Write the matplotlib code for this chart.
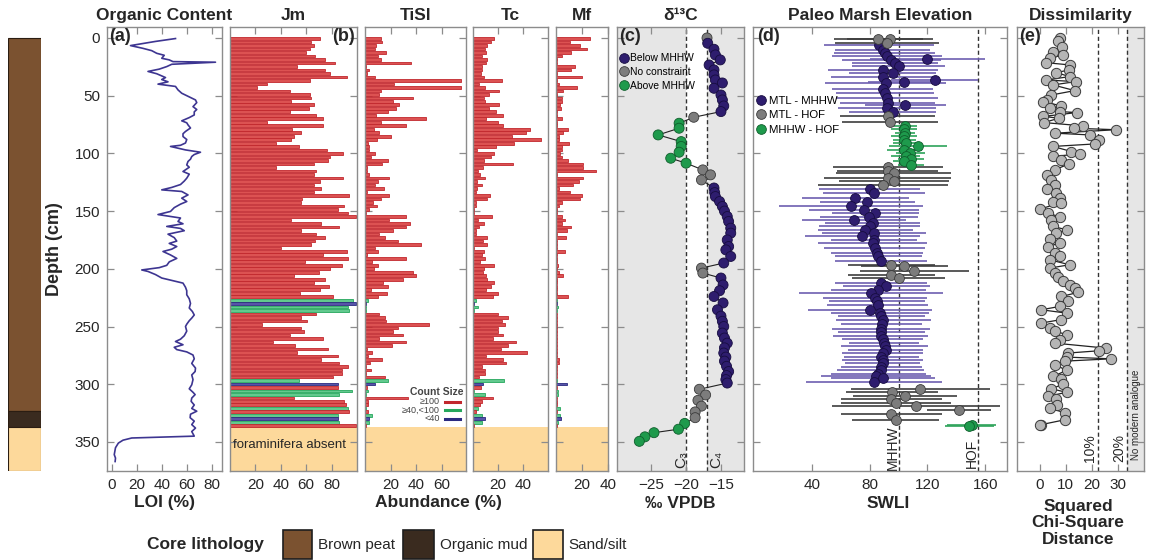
import numpy as np
import matplotlib
matplotlib.use("Agg")
import matplotlib.pyplot as plt
from matplotlib.lines import Line2D
from matplotlib.patches import Rectangle

WIDE = ['Liberation Sans', 'DejaVu Sans']
plt.rcParams['font.family'] = WIDE

# ---------------- data ----------------
litho_top = [0, 323, 337]
litho_bottom = [323, 337, 375]
litho_names = ['Brown peat', 'Organic mud', 'Sand/silt']
litho_colors = ['#7b5230', '#3a2b1f', '#fdd99b']

loi_depth = [0.5, 3, 6.6, 9, 11, 13.3, 15, 17.6, 19, 20.5, 21, 22.8, 24.8, 27, 29, 31,
             34.3, 36, 38, 40, 42, 45, 47.9, 50, 53.7, 56, 59.5, 62, 64, 66.7, 69, 71.8,
             73.5, 75.3, 78, 81, 83, 85.4, 88, 91, 93, 94, 95.5, 97, 99, 101, 102.7, 105,
             107, 110, 112, 115.7, 118, 121.5, 124, 127, 129.5, 131.6, 133, 136, 138.8,
             141.7, 144, 147, 150.3, 153, 156, 159, 161, 163.3, 165, 167, 170, 173, 176,
             178, 180.7, 183, 185, 188, 191, 194, 197, 199, 201, 202.3, 205, 208, 212.4,
             216, 219, 222.5, 226, 230, 234, 237, 240, 242.7, 245, 248, 250, 254, 258, 261,
             263, 265.8, 268, 270, 272, 274.7, 278, 282, 286, 289, 292, 296, 300.5, 304,
             307, 309, 312, 314.8, 318, 321, 323.4, 326, 329, 332, 335, 338, 341, 343.7,
             345, 346.6, 348.5, 351, 355, 358, 361, 364, 367]
loi = [51, 35, 15, 25, 32, 36, 42, 40, 46, 49, 83, 48, 44, 38, 29, 36,
       43, 40, 45, 37, 51, 53, 56, 60, 67, 68, 65, 68, 66, 66, 62, 56,
       60, 61, 63, 59, 57, 57, 60, 59, 55, 47, 53, 59, 71, 66, 64, 63,
       61, 60, 62, 57, 62, 60, 58, 55, 48, 40, 56, 61, 56,
       60, 55, 50, 47, 37, 55, 53, 57, 44, 55, 58, 45, 50, 52,
       46, 52, 48, 41, 47, 52, 46, 44, 38, 24, 29, 35, 40, 57,
       59, 60, 60, 62, 63, 62, 64.5, 66, 64, 62, 60, 59, 60, 58, 55,
       51, 57, 50, 52, 60, 65, 66, 64, 67, 66.7, 64, 65, 64, 62,
       65, 66.7, 64, 63.5, 66, 64, 68, 63, 62.7, 66, 64, 67, 64, 65.3,
       66, 16, 9, 5.3, 3, 2.5, 2, 3, 2.7]

# foraminifera relative abundance (%), samples top to bottom
jm = [71, 64, 66, 63, 60, 67, 75, 83, 53, 75, 79, 92, 63, 29, 21, 47, 63, 64, 48, 66,
      62, 47, 68, 73, 29, 73, 49, 56, 50, 48, 36, 54, 76, 89, 79, 77, 66, 36, 68, 66,
      89, 71, 66, 72, 66, 94, 57, 56, 90, 85, 93, 99, 48, 72, 86, 56, 68, 75, 67, 64,
      40, 92, 73, 93, 59, 88, 79, 70, 50, 75, 66,
      78, 71, 55, 81, 97, 99, 93, 94, 68, 56, 61, 25, 56, 58, 47, 73, 34, 51, 77, 53,
      85, 72, 86, 93, 88, 88, 81, 54, 85, 85, 96, 86, 50, 90, 91, 93, 94, 85, 85, 86, 99]
tisl = [12.7, 13.5, 8.8, 7.5, 16.6, 10, 12.7, 36, 1, 3.5, 1.4, 7.5, 75, 23, 75, 12.7,
        11, 37.5, 22, 26.5, 24.4, 18, 8.8, 48, 12.7, 32, 6.7, 11, 20.5, 9.3, 2.2, 3, 3.5,
        8.2, 4.8, 18, 13.5, 1.4, 1.4, 3.5, 19, 10, 7.5, 14.5, 1.4, 18.7, 12.7, 6, 9.3, 3,
        1, 32, 18.7, 35.4, 32, 22, 11.3, 16, 25.7, 44, 7.5, 10, 1.4, 32, 5.6, 10, 6.7,
        37.5, 40, 30, 14,
        18, 4.8, 17, 10, 2.2, 1, 1, 1, 11.3, 16, 16.6, 50, 25.7, 22, 30, 11.3, 32, 21,
        1.4, 5.6, 2.2, 13.5, 4, 1, 4.8, 1, 15.3, 18, 8.2, 1.5, 2, 1, 33.6, 2.5, 2.5, 1,
        2.5, 5.6, 3.5, 3.5, 0.5]
tc = [16.8, 14, 11.5, 9.6, 10, 7.5, 11.5, 10.7, 7, 7, 6, 8.8, 23, 4.8, 9.6, 21, 12.8,
      8.8, 9.6, 20.8, 12.3, 18, 24, 10, 19.5, 24, 45, 42, 31, 54, 32.8, 18, 3.5, 16.8,
      14, 8.8, 31.5, 8, 4.3, 5.3, 9.6, 3.5, 7, 3.5, 2, 13.3, 11.5, 2.7, 2, 0.5, 0.5, 15,
      4.3, 8.8, 4.8, 2.7, 2.7, 11.5, 8, 11.5, 1, 8.8, 7, 9.6, 5.3, 16.8, 8.8, 8, 10,
      11.5, 16.8,
      14, 10, 20, 15.5, 2.7, 1, 4.3, 1, 20, 28, 23, 25.6, 20, 19.5, 24, 15.5, 34, 27.5,
      22, 42.7, 10, 23.5, 26, 7, 9.6, 9.6, 4.8, 24.8, 8, 6, 1, 9.6, 15.5, 7, 5.3, 4.3,
      2.7, 7.5, 9.6, 7.5, 1]
mf = [26, 10.8, 18.5, 23.6, 11.3, 4.4, 0.5, 0.5, 14.6, 11.3, 1, 19.7, 0.5, 2.6, 16, 5,
      0.5, 4.4, 4.4, 3, 3.5, 0.5, 0.5, 4.4, 0.5, 0.5, 9.5, 5.6, 2.6, 2.6, 10, 4.4, 4.4,
      3, 4.4, 9.5, 20.5, 20.5, 30.8, 1, 20.5, 18, 12.8, 2.6, 10.8, 19.7, 18.5, 4.4, 2.6,
      1, 0.5, 4.4, 7, 4.4, 11.3, 8.2, 0.5, 7.7, 0.5, 1, 0.5, 7, 0.5, 0.5, 0.5, 1.5, 0.5,
      2.6, 5, 0.5, 0.5,
      0.5, 0.5, 1, 9.5, 1, 1, 1.5, 1, 1, 0.5, 0.5, 0.5, 0.5, 0.5, 0.5, 0.5, 0.5, 0.5,
      0.5, 0.5, 0.5, 2.6, 2.6, 0.5, 0.5, 0.5, 0.5, 1, 8.2, 0.5, 1.5, 1.5, 0.5, 1, 0.5,
      3, 0.5, 3, 3.5, 1.5, 0.5]
# count size per sample: r >=100, g 40-100, b <40
count_class = 'r' * 71 + 'rrrr' + 'gbgg' + 'r' * 19 + 'gbrgg' + 'rrr' + 'grgbgr'

d13c_depth = [0, 4.6, 9.8, 14.7, 19, 23.4, 27.7, 32, 36.4, 39, 43.6, 49.4, 53.7, 58.9,
              63.8, 68.7, 73.9, 78.2, 84, 89.8, 94, 99, 104.2, 108.5, 114.3, 118.6, 123,
              130, 134, 137.4, 141.7, 146, 150, 154.7, 159, 164.8, 169.1, 175, 180.7,
              183.6, 189.3, 195, 199.4, 203.7, 208, 214, 219, 224, 229.6, 235.5, 241,
              245.5, 250, 255.7, 260, 264.4, 268.5, 273, 276.5, 280, 284.5, 289, 292.5,
              296, 299, 304.4, 309.3, 314, 319, 324, 329, 334, 339, 342, 345.6, 349.5]
d13c = [-17.0, -16.9, -16.0, -15.8, -15.1, -16.7, -16.0, -16.0, -15.8, -14.8, -16.0,
        -15.0, -14.8, -14.6, -15.0, -18.9, -21.0, -21.0, -24.0, -20.7, -20.7, -21.0,
        -22.2, -20.0, -17.6, -16.5, -17.8, -16.0, -15.9, -15.8, -15.2, -14.8, -14.5,
        -14.1, -13.9, -13.6, -13.6, -14.1, -13.9, -14.3, -13.6, -14.6, -17.8, -17.6,
        -15.0, -14.7, -15.2, -16.0, -14.7, -15.5, -15.0, -14.8, -14.6, -14.8, -14.5,
        -14.1, -14.5, -14.6, -14.3, -14.5, -14.2, -13.9, -14.2, -14.3, -14.1, -18.1,
        -17.2, -18.3, -17.8, -18.7, -18.7, -20.2, -21.1, -24.6, -25.9, -26.7]
d13c_zone = ('kbbbbbbbbbbbbbb' + 'k' + 'gggggggg' + 'kkk' + 'b' * 15 + 'kk'
             + 'b' * 21 + 'kkkkkk' + 'ggggg')

swli_depth = [1, 0.5, 4, 6, 10, 13, 16, 18.5, 19, 22, 24, 28, 30, 34, 36.5, 38, 39, 44,
              48, 52, 56, 58, 61, 64, 67.5, 73,
              76, 79, 82, 85, 88, 91, 94, 97, 100, 102, 104.5, 107, 110,
              112, 115, 117, 121, 124, 127,
              131, 134.5, 139, 142, 145.5, 149, 152, 155, 158, 160, 163, 166, 169, 172,
              175, 178, 182, 186, 189, 193.5,
              196.5, 198, 202, 205, 208,
              212, 215, 218, 221, 225, 228, 231, 235.5, 238, 241, 244, 248, 252, 255, 258,
              261, 264, 267, 270, 273, 276, 279, 282, 285, 288, 291, 293, 295, 298,
              304, 307, 310.5, 313, 316, 319, 322, 325.5, 331,
              335, 336.5]
swli = [86, 94, 92, 86.5, 89, 90.5, 92, 120, 95, 97.5, 100, 89, 96, 89, 125, 104, 91, 89,
        90.5, 92, 92.5, 104.5, 92, 96, 92.5, 94,
        104.5, 103.5, 104.5, 103.5, 104, 105, 113.5, 104, 108, 105, 108.5, 104, 108.5,
        92.5, 92.5, 96.5, 92.5, 97, 89,
        80, 83, 70, 78.5, 67, 76, 84, 79.5, 69, 82, 80, 77, 83, 75, 83, 82, 83.5, 85, 86,
        88,
        95, 104, 111, 95, 100,
        88, 91.5, 86, 81, 84, 85, 85.5, 80, 87, 88, 89.5, 88.5, 88, 88, 87.5, 89, 90,
        90.5, 91, 89, 88, 89, 89, 88, 87.5, 86, 84.5, 89, 83,
        115, 95.5, 104.5, 95, 98, 112, 142, 95, 98,
        150.5, 149]
swli_err = [31, 30, 36, 38, 33, 35, 38, 40, 34, 30, 32, 38, 30, 36, 30, 25, 42, 35, 34,
            35, 33, 28, 34, 30, 33, 33,
            8, 9, 7, 9, 8, 9, 20, 12, 10, 10, 9, 8, 9,
            38, 35, 40, 44, 38, 45,
            35, 35, 37, 33, 50, 38, 30, 34, 36, 33, 35, 33, 36, 40, 30, 38, 35, 32, 30, 32,
            30, 30, 38, 30, 32,
            32, 30, 33, 50, 36, 33, 35, 43, 34, 30, 33, 28, 34, 30, 33, 28, 24, 30, 26, 28,
            26, 28, 26, 28, 30, 33, 38, 36, 47,
            48, 32, 36, 35, 38, 58, 22, 35, 30,
            17, 17]
swli_zone = ('kkk' + 'b' * 21 + 'kk' + 'g' * 13 + 'k' * 6 + 'b' * 20 + 'k' * 5
             + 'b' * 29 + 'k' * 9 + 'gg')

dis_depth = [0, 3, 7.5, 11.8, 14.7, 17.6, 21.4, 23.4, 27.7, 30, 33.5, 36.4, 37.8, 40.7,
             45.6, 49.4, 53.7, 55.1, 58.9, 61, 63.8, 64.6, 68, 69.5, 73.3, 76.2, 78.2,
             79.5, 82.5, 84, 88.3, 91.8, 94, 98.4, 100.4, 102.7, 105.6, 109, 114.3, 118.6,
             123, 127.3, 131, 134.5, 138.8, 141.7, 142.6, 148.3, 151.8, 155, 157.6, 163.3,
             166.2, 169.1, 174.3, 177.8, 180.7, 186.4, 189.3, 192.2, 196.5, 199.4, 203.7,
             207.2, 211, 214, 216.7, 220.5, 224, 228, 232.6, 235.5, 238.4, 244, 247, 251,
             254, 257, 261.5, 264.4, 268.7, 271, 273, 276.5, 278, 280, 283, 288, 293.3,
             295.5, 300, 304, 307, 310.5, 313, 317.8, 320.6, 325, 330.7, 335, 335.7]
dis = [7.7, 7.0, 8.7, 5.1, 9.0, 3.8, 2.3, 11.8, 11.3, 6.4, 11.5, 2.3, 13.9, 5.1, 13.5, 4.5,
       2.6, 1.3, 8.3, 3.8, 7.7, 14.4, 1.3, 7.4, 1.6, 16.7, 13.0, 29.5, 5.8, 19.2, 23.0,
       21.3, 5.1, 12.2, 15.4, 5.1, 8.3, 11.3, 5.8, 2.6, 4.5, 5.8, 2.6, 6.4, 7.7, 5.1, 8.3,
       0.0, 3.2, 7.7, 4.5, 5.1, 10.3, 6.4, 3.8, 7.7, 3.2, 5.8, 7.7, 3.8, 11.5, 3.8, 5.8,
       7.0, 9.0, 11.5, 13.5, 14.7, 8.3, 11.0, 7.7, 0.6, 10.3, 8.3, 0.6, 3.8, 5.8, 10.3,
       7.7, 5.8, 25.4, 23.0, 10.9, 10.3, 27.6, 9.6, 5.8, 10.3, 5.1, 8.3, 9.0, 4.5, 10.3,
       3.2, 6.4, 6.7, 3.8, 9.9, 9.9, 0.6, 0.0]

# ---------------- styling ----------------
SAND = litho_colors[2]
BAR_FACE = {'r': '#dc5252', 'g': '#62c98e', 'b': '#5754a8'}
BAR_EDGE = {'r': '#c1272d', 'g': '#25a75c', 'b': '#2b2a80'}
ZONE_FACE = {'b': '#2e1d6e', 'k': '#7c7c7c', 'g': '#1e9a4c'}
ZONE_EDGE = {'b': '#170d40', 'k': '#3a3a3a', 'g': '#0f5e2c'}
ERR_COL = {'b': '#6d5fb0', 'k': '#3d3d3d', 'g': '#2ea35a'}
TXT = '#262626'

W, H = 1149, 560
TOP, BOT = 27, 471
fig = plt.figure(figsize=(W / 100, H / 100), dpi=100)


def add_panel(x0, x1):
    ax = fig.add_axes([x0 / W, 1 - BOT / H, (x1 - x0) / W, (BOT - TOP) / H])
    ax.set_ylim(375.2, -9.5)
    ax.set_yticks(range(0, 351, 50))
    ax.tick_params(direction='in', top=True, right=True, length=5, width=0.9,
                   color='#8c8c8c', labelsize=11, labelcolor=TXT, pad=5)
    ax.tick_params(axis='y', labelleft=False)
    for sp in ax.spines.values():
        sp.set_color('#8c8c8c')
        sp.set_linewidth(1.0)
    return ax


def title(ax, text):
    ax.set_title(text, fontsize=12.5, fontweight='bold', pad=5, color=TXT)


def plabel(ax, text, right=False):
    ax.text(0.98 if right else 0.015, 0.997, text, transform=ax.transAxes,
            ha='right' if right else 'left', va='top', fontsize=13,
            fontweight='bold', color=TXT, zorder=6)


def xlab(x, y, text):
    fig.text(x / W, 1 - y / H, text, ha='center', va='center', fontsize=12.5,
             fontweight='bold', color=TXT, linespacing=1.15)


depth_s = np.linspace(0.5, 336, len(jm))


def bars(ax, vals):
    face = [BAR_FACE[c] for c in count_class]
    edge = [BAR_EDGE[c] for c in count_class]
    ax.barh(depth_s, vals, height=2.3, color=face, edgecolor=edge, linewidth=0.6, zorder=2)
    ax.axhspan(337.2, 376, color=SAND, lw=0, zorder=1.5)


# lithology column
axl = fig.add_axes([8 / W, 1 - BOT / H, 33 / W, (BOT - TOP) / H])
axl.set_ylim(375.2, -9.5)
axl.set_xlim(-0.5, 0.5)
axl.bar([0] * 3, np.subtract(litho_bottom, litho_top), bottom=litho_top, width=1,
        color=litho_colors, edgecolor='#2b1d12', linewidth=0.8)
axl.axis('off')

# (a) LOI
ax = add_panel(107, 222)
ax.plot(loi, loi_depth, color='#3d3591', lw=1.2)
ax.set_xlim(-3.8, 88.2)
ax.set_xticks([0, 20, 40, 60, 80])
ax.tick_params(axis='y', labelleft=True)
ax.set_ylabel('Depth (cm)', fontsize=13, fontweight='bold', color=TXT, labelpad=8)
title(ax, 'Organic Content')
plabel(ax, '(a)')
xlab(164, 503, 'LOI (%)')

# Jm
ax = add_panel(230, 357)
bars(ax, jm)
ax.set_xlim(0, 100)
ax.set_xticks([20, 40, 60, 80])
title(ax, 'Jm')
plabel(ax, '(b)', right=True)
ax.text(2, 353, 'foraminifera absent', fontsize=9.5, va='center', ha='left',
        color=TXT, zorder=4)

# TiSl
ax = add_panel(365, 466)
bars(ax, tisl)
ax.set_xlim(0, 79)
ax.set_xticks([20, 40, 60])
title(ax, 'TiSl')
ax.text(56, 306.5, 'Count Size', fontsize=7.5, fontweight='bold', ha='center',
        va='center', color='#444444', zorder=5)
for lab, c, dy in [('≥100', 'r', 315), ('≥40,<100', 'g', 322.5), ('<40', 'b', 330)]:
    ax.text(58.4, dy, lab, fontsize=6.5, ha='right', va='center', color='#444444', zorder=5)
    ax.plot([62.4, 74.1], [dy, dy], color=BAR_EDGE[c], lw=2.2, zorder=5)

# Tc
ax = add_panel(473, 548)
bars(ax, tc)
ax.set_xlim(0, 59.5)
ax.set_xticks([20, 40])
title(ax, 'Tc')
xlab(438, 503, 'Abundance (%)')

# Mf
ax = add_panel(556, 608)
bars(ax, mf)
ax.set_xlim(0, 40)
ax.set_xticks([20, 40])
title(ax, 'Mf')

# (c) d13C
ax = add_panel(617, 744)
ax.set_facecolor('#e6e6e6')
ax.axvspan(-20, -17, color='white', lw=0, zorder=0)
for xv in (-20, -17):
    ax.axvline(xv, color='#333333', lw=1.0, ls=(0, (3, 2)), zorder=1)
ax.plot(d13c, d13c_depth, color='#222222', lw=0.8, zorder=2)
ax.scatter(d13c, d13c_depth, s=52, c=[ZONE_FACE[z] for z in d13c_zone],
           edgecolors=[ZONE_EDGE[z] for z in d13c_zone], linewidths=0.6, zorder=3)
ax.set_xlim(-29.9, -11.7)
ax.set_xticks([-25, -20, -15])
ax.text(-20.7, 373, 'C₃', rotation=90, ha='center', va='bottom', fontsize=11, color=TXT)
ax.text(-15.7, 373, 'C₄', rotation=90, ha='center', va='bottom', fontsize=11, color=TXT)
hc = [Line2D([], [], ls='', marker='o', ms=7, mfc=ZONE_FACE[z], mec=ZONE_EDGE[z],
             mew=0.6, label=l)
      for z, l in [('b', 'Below MHHW'), ('k', 'No constraint'), ('g', 'Above MHHW')]]
ax.legend(handles=hc, loc='upper left', bbox_to_anchor=(0.0, 0.945), frameon=False,
          fontsize=7.4, handletextpad=0.1, borderpad=0.1, labelspacing=0.35,
          handlelength=1.0, borderaxespad=0.1)
title(ax, 'δ¹³C')
plabel(ax, '(c)')
xlab(680, 503, '‰ VPDB')

# (d) SWLI
ax = add_panel(753, 1007)
for xv in (100, 155):
    ax.axvline(xv, color='#333333', lw=1.0, ls=(0, (3, 2)), zorder=1)
sd = np.array(swli_depth)
sv = np.array(swli)
se = np.array(swli_err)
sz = np.array(list(swli_zone))
for z in 'bkg':
    m = sz == z
    ax.errorbar(sv[m], sd[m], xerr=se[m], fmt='none', ecolor=ERR_COL[z],
                elinewidth=1.2, capsize=0, zorder=2)
for z in 'bkg':
    m = sz == z
    ax.scatter(sv[m], sd[m], s=50, c=ZONE_FACE[z], edgecolors=ZONE_EDGE[z],
               linewidths=0.6, zorder=3)
ax.set_xlim(-0.7, 175)
ax.set_xticks([40, 80, 120, 160])
ax.text(95.8, 374, 'MHHW', rotation=90, ha='center', va='bottom', fontsize=10, color=TXT)
ax.text(150.5, 372.5, 'HOF', rotation=90, ha='center', va='bottom', fontsize=10, color=TXT)
hd = [Line2D([], [], ls='', marker='o', ms=7, mfc=ZONE_FACE[z], mec=ZONE_EDGE[z],
             mew=0.6, label=l)
      for z, l in [('b', 'MTL - MHHW'), ('k', 'MTL - HOF'), ('g', 'MHHW - HOF')]]
ax.legend(handles=hd, loc='upper left', bbox_to_anchor=(0.0, 0.85), frameon=False,
          fontsize=8.2, handletextpad=0.2, borderpad=0.1, labelspacing=0.4,
          handlelength=1.0, borderaxespad=0.1)
title(ax, 'Paleo Marsh Elevation')
plabel(ax, '(d)')
xlab(888, 503, 'SWLI')

# (e) dissimilarity
ax = add_panel(1017, 1144)
ax.axvspan(33.8, 41, color='#e6e6e6', lw=0, zorder=0)
for xv in (22.3, 33.8):
    ax.axvline(xv, color='#333333', lw=1.0, ls=(0, (3, 2)), zorder=1)
ax.plot(dis, dis_depth, color='#222222', lw=0.9, zorder=2)
ax.scatter(dis, dis_depth, s=55, c='#b5b5b5', edgecolors='#3a3a3a', linewidths=0.7,
           zorder=3)
ax.set_xlim(-8.8, 40.2)
ax.set_xticks([0, 10, 20, 30])
ax.text(19.2, 367, '10%', rotation=90, ha='center', va='bottom', fontsize=10, color=TXT)
ax.text(30.7, 367, '20%', rotation=90, ha='center', va='bottom', fontsize=10, color=TXT)
ax.text(37.2, 366, 'No modern analogue', rotation=90, ha='center', va='bottom',
        fontsize=7, color=TXT)
title(ax, 'Dissimilarity')
plabel(ax, '(e)')
xlab(1078, 523, 'Squared\nChi-Square\nDistance')

# lithology legend
fig.text(147 / W, 1 - 545 / H, 'Core lithology', fontsize=12.5, fontweight='bold',
         va='center', ha='left', color=TXT)
for (x0, x1, xt), name, col in zip([(283, 312, 318), (403, 434, 440), (533, 563, 568)],
                                   litho_names, litho_colors):
    fig.add_artist(Rectangle((x0 / W, 1 - 559 / H), (x1 - x0) / W, 29 / H,
                             transform=fig.transFigure, facecolor=col,
                             edgecolor='#1e1e1e', lw=1.2))
    fig.text(xt / W, 1 - 545 / H, name, fontsize=11, va='center', ha='left', color=TXT)

fig.savefig('out.png', dpi=100)
